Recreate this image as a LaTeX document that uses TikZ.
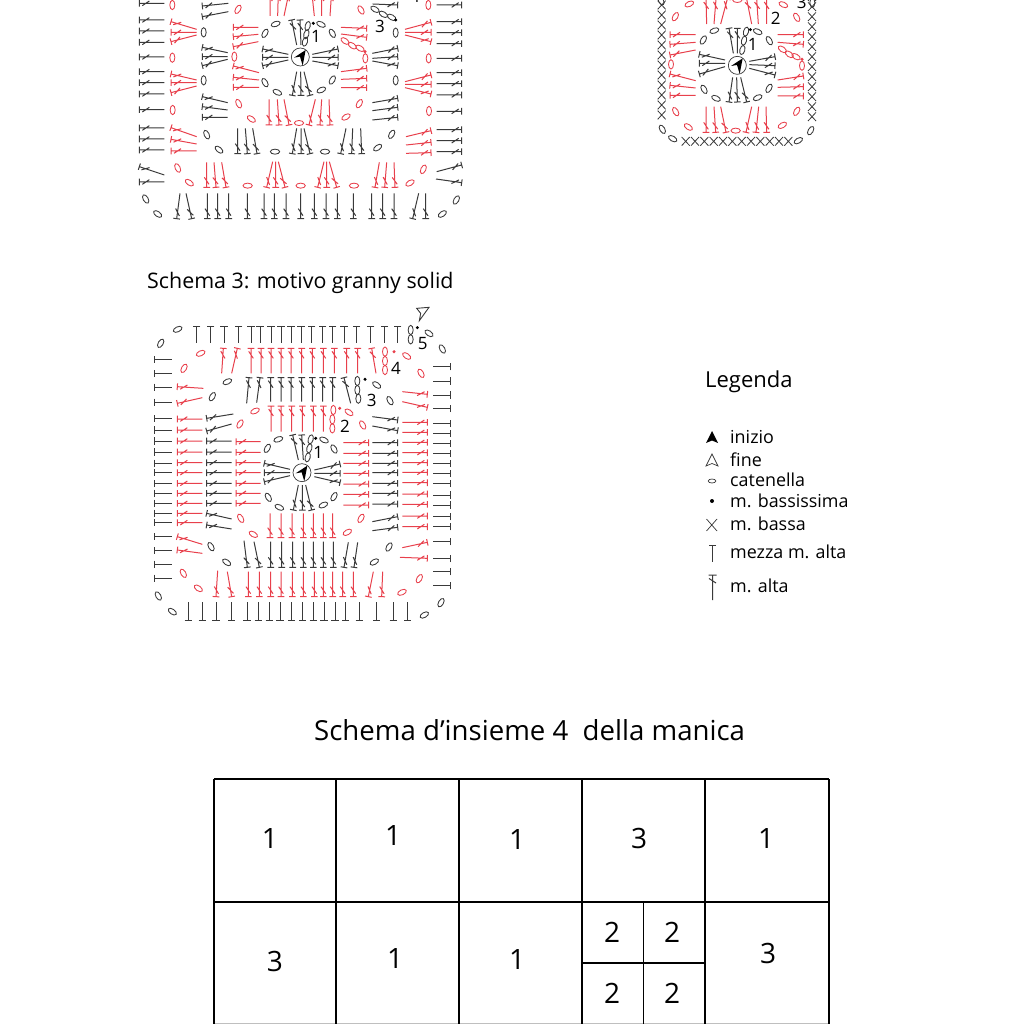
\documentclass[tikz,border=0pt]{standalone}
\usepackage{fontspec}
\setmainfont{Open Sans}
\usetikzlibrary{calc}
\definecolor{cr}{HTML}{E8404C}
\definecolor{ck}{HTML}{3A3A3A}
\tikzset{
  stitch/.style={line width=1pt,line cap=butt},
  ovalst/.style={line width=0.85pt},
  lab/.style={inner sep=0pt,font=\fontsize{17}{17}\selectfont,text=black},
  legtext/.style={anchor=west,inner sep=0pt,font=\fontsize{17.9}{17.9}\selectfont,text=black},
  tabnum/.style={inner sep=0pt,font=\fontsize{28}{28}\selectfont,text=black},
  gridline/.style={line width=1.3pt,draw=black},
  chart/.style={x=1pt,y=-1pt,scale=1/3}
}
\def\bw{10pt}\def\hw{11pt}\def\sa{30pt}\def\sb{9pt}\def\so{7pt}
% double crochet: colour, bar x,y, stem end x,y
\newcommand\ma[5]{\draw[stitch,#1] ($(#2,#3)!\bw!90:(#4,#5)$) -- ($(#2,#3)!\bw!-90:(#4,#5)$) (#2,#3)--(#4,#5) ($(#2,#3)!\sa!(#4,#5)!\so!90:(#4,#5)$) -- ($(#2,#3)!\sb!(#4,#5)!\so!-90:(#4,#5)$);}
% half double crochet
\newcommand\hd[5]{\draw[stitch,#1] ($(#2,#3)!\hw!90:(#4,#5)$) -- ($(#2,#3)!\hw!-90:(#4,#5)$) (#2,#3)--(#4,#5);}
\newcommand\mal[2]{\foreach \a/\b/\c/\d in {#2} {\ma{#1}{\a}{\b}{\c}{\d}}}
\newcommand\ovs[2]{\foreach \a/\b/\c in {#2} {\draw[ovalst,#1,shift={(\a,\b)},rotate=\c] (0,0) ellipse [x radius=14,y radius=7.5];}}
\newcommand\xst[2]{\draw[line width=0.8pt,#1] ($(#2)+(-12,-13)$) -- ($(#2)+(12,13)$) ($(#2)+(-12,13)$) -- ($(#2)+(12,-13)$);}
\newcommand\startarrow[2]{\fill[black,shift={(#1,#2)}] (16,-21) -- (-19,2) -- (-1,-1) -- (7,26) -- cycle;}
\newcommand\ringdraw[2]{\draw[line width=0.7pt,ck] (#1,#2) circle [radius=27];\startarrow{#1}{#2}}
\begin{document}
\begin{tikzpicture}[x=1pt,y=-1pt]
\useasboundingbox (0,0) rectangle (1024,1024);
\clip (0,0) rectangle (1024,1024);
\fill[white] (0,0) rectangle (1024,1024);

% ===== chart 1 =====
\begin{scope}[shift={(130,0)},chart]
\ringdraw{511}{171}
% outer black
\foreach \y in {10,60,93,127,171,215,248,282,329,384,417,450,546} {\ma{ck}{28}{\y}{103}{\y}}
\ma{ck}{28}{500}{103}{525}
\foreach \y in {15,65,98,131,175,218,251,285,334,389,422,455} {\ma{ck}{995}{\y}{920}{\y}}
\mal{ck}{995/495/920/515,995/548/918/537}
\foreach \x in {232,263,296,352,402,433,468,512,553,588,622,670,725,758,792} {\ma{ck}{\x}{656}{\x}{580}}
\mal{ck}{140/656/150/580,185/656/168/580,848/656/866/580,887/656/887/580}
\ovs{ck}{47/597/-60,83/642/-35,937/642/35,979/600/60}
% red outer
\mal{cr}{123/65/200/88,123/97/200/97,123/125/200/105,123/222/200/240,123/248/200/248,123/278/200/258,123/383/200/410,123/418/200/432,123/453/200/453}
\mal{cr}{903/67/825/88,903/97/825/97,903/125/825/105,903/225/825/245,903/253/825/253,903/282/825/263,903/392/828/410,903/427/828/435,903/458/828/460}
\ovs{cr}{127/15/90,127/173/90,128/330/90,143/504/-65,178/548/-35,895/15/90,896/175/90,897/333/90,880/508/65,840/549/30,324/28/60,693/30/-60}
\mal{cr}{230/562/230/487,258/562/252/487,288/562/275/487,410/562/428/485,437/562/437/485,465/562/445/485,563/562/582/485,590/562/590/485,620/562/598/485,735/562/748/487,764/562/770/487,795/562/792/487}
\ovs{cr}{353/557/0,512/557/0,672/557/0}
% black middle
\mal{ck}{217/18/295/10,217/50/295/35,217/142/293/158,217/170/293/170,217/197/293/178,217/290/293/308,217/320/293/330,217/352/293/352}
\mal{ck}{803/15/728/12,803/145/727/160,803/170/727/175,803/197/727/183,803/295/727/308,803/322/727/332,803/352/727/360}
\ovs{ck}{221/97/90,221/241/90,230/404/-65,267/449/-40,797/98/90,797/241/90,785/403/60,743/443/35,735/28/-30,760/43/-30,785/52/-30}
\fill[black] (797,60) circle [radius=5];
\mal{ck}{323/461/323/385,352/461/346/385,381/461/368/385,487/461/500/385,513/461/513/385,540/461/522/385,632/461/648/385,665/461/668/385,695/461/692/385}
\ovs{ck}{435/455/0,585/455/0}
% red inner
\mal{cr}{417/375/417/298,447/375/442/298,477/375/462/298,537/375/556/298,570/375/575/298,600/375/597/298}
\ovs{cr}{507/369/0,364/357/-35,326/311/-65,648/351/30,688/311/60}
\mal{cr}{310/82/385/82,310/110/385/103,310/140/385/125,310/198/387/218,310/232/387/240,310/262/387/262}
\mal{cr}{710/85/633/82,710/112/633/102,710/263/633/263,710/205/633/215,710/235/633/238}
\ovs{cr}{313/170/90,645/123/-35,667/137/-35,690/145/-30,706/175/90}
\fill[cr] (705,155) circle [radius=5];
\mal{cr}{420/-27/420/48,445/-27/443/48,478/-27/462/48,545/-27/553/48,575/-27/575/48,605/-27/600/48}
% centre
\mal{ck}{485/60/500/135,510/60/513/135,398/147/475/163,398/172/475/172,398/197/475/180,624/147/547/163,624/172/547/172,624/197/547/183,487/286/500/215,513/286/512/215,540/286/522/215}
\ovs{ck}{437/72/20,405/100/60,405/248/-60,442/277/-25,574/270/25,607/240/60,607/100/-60,573/73/-25,533/78/75,529/103/75,525/125/75}
\fill[black] (550,70) circle [radius=5];
\node[lab] (c1a) at (558,110) {1};
\node[lab] (c1b) at (750,78) {3};
\node[lab] (c1c) at (855,-12) {4};
\end{scope}

% ===== chart 2 =====
\begin{scope}[shift={(650,0)},chart]
\ringdraw{262}{196}
\foreach \y in {-15,15,45,75,105,135,165,195,225,255,285,315,345} {\xst{ck}{35,\y}}
\foreach \y in {-10,20,50,80,110,140,170,200,230,260,290,320,350} {\xst{ck}{486,\y}}
\foreach \x in {107,135,163,191,219,247,275,303,331,359,387,415} {\xst{ck}{\x,424}}
\ovs{ck}{33/2/-60,37/388/-60,68/416/-30,445/422/30,482/392/60,487/8/90}
\ovs{cr}{76/50/60,118/12/25,400/14/-25,440/52/-60,262/0/0,77/335/-60,115/381/-35,397/376/30,440/334/60,257/392/0,63/193/90,456/197/90,397/148/-35,418/163/-35,438/170/-30}
\mal{cr}{60/104/137/104,60/133/137/127,60/165/137/150,60/222/137/242,60/256/137/264,60/286/137/286}
\mal{cr}{460/104/383/104,460/133/383/127,460/228/383/240,460/260/383/262,460/288/383/288}
\fill[cr] (456,178) circle [radius=5];
\mal{cr}{168/397/168/320,197/397/192/320,228/397/212/320,288/397/305/320,318/397/326/320,350/397/348/320}
\mal{cr}{168/-3/170/72,198/-3/192/72,232/-3/212/72,290/-3/305/72,320/-3/325/72,350/-3/350/72}
\ovs{ck}{193/92/20,160/120/60,162/268/-60,198/295/-25,323/293/25,357/265/60,358/122/-60,323/95/-25,288/95/75,282/122/75,277/150/75}
\mal{ck}{148/163/225/180,148/190/225/190,148/222/225/200,375/170/298/184,375/197/298/194,375/225/298/205,237/306/248/232,262/306/260/232,290/306/272/232,237/85/250/160,262/85/262/160}
\fill[black] (301,89) circle [radius=5];
\node[lab] (c2a) at (308,132) {1};
\node[lab] (c2b) at (377,55) {2};
\node[lab] (c2c) at (455,8) {3};
\end{scope}

% ===== chart 3 =====
\begin{scope}[shift={(140,300)},chart]
\ringdraw{486}{518}
\foreach \x in {170,212,252,296,333,360,393,423,453,483,515,548,578,612,650,692,733,773} {\hd{ck}{\x}{78}{\x}{130}}
\foreach \y in {179,221,262,307,356,390,423,456,490,518,551,580,610,640,668,710,752,793,835} {\hd{ck}{42}{\y}{95}{\y}}
\foreach \y in {200,243,285,325,370,400,430,460,490,520,550,585,615,650,680,725,775,815,857} {\hd{ck}{932}{\y}{878}{\y}}
\foreach \x in {145,187,228,275,321,355,388,420,455,488,520,552,585,617,658,710,760,803} {\hd{ck}{\x}{962}{\x}{905}}
\ovs{ck}{113/88/25,62/130/60,55/888/-60,97/935/-35,853/945/30,903/908/60,907/147/-60,867/100/-35,812/90/90,812/118/90}
\fill[black] (832,83) circle [radius=5];
% red outer
\mal{cr}{250/145/245/220,292/145/275/220,695/145/708/220}
\foreach \x in {333,363,393,423,453,485,517,550,583,620,653} {\ma{cr}{\x}{145}{\x}{220}}
\ovs{cr}{182/160/25,132/205/60,800/168/-35,843/220/-60,735/155/90,735/183/90,735/210/90,130/820/-60,175/865/-35,838/836/60,786/877/25}
\fill[cr] (762,155) circle [radius=5];
\mal{cr}{112/260/190/265,112/310/187/293,112/710/187/733,112/750/187/760}
\foreach \y in {357,390,423,456,488,518,550,580,610,640,668} {\ma{cr}{112}{\y}{187}{\y}}
\mal{cr}{862/283/787/275,862/322/787/305,862/727/787/743,862/775/780/772}
\foreach \y in {367,397,427,458,488,517,548,582,613,648,680} {\ma{cr}{862}{\y}{787}{\y}}
\mal{cr}{228/890/233/812,275/890/262/815,685/890/700/815,725/890/728/815}
\foreach \x in {325,358,392,423,457,490,523,550,578,608,640} {\ma{cr}{\x}{890}{\x}{815}}
% black middle
\mal{ck}{327/233/320/310,360/233/350/308,612/233/632/310}
\foreach \x in {392,423,453,485,517,548,578} {\ma{ck}{\x}{233}{\x}{305}}
\ovs{ck}{652/243/90,652/270/90,655/296/90,262/245/25,217/290/60,710/255/-35,750/302/-60,213/740/-60,260/787/-35,747/741/60,703/786/30}
\fill[black] (675,238) circle [radius=5];
\mal{ck}{200/355/280/342,200/393/275/372,200/640/275/657,200/675/275/687}
\foreach \y in {423,456,488,518,550,580,610} {\ma{ck}{200}{\y}{275}{\y}}
\mal{ck}{773/360/697/350,773/392/697/378,773/650/697/665,773/682/697/692}
\foreach \y in {428,460,490,518,550,580,612} {\ma{ck}{773}{\y}{697}{\y}}
\mal{ck}{322/802/312/722,358/802/342/725,612/802/625/727,642/802/653/727}
\foreach \x in {392,425,458,490,520,550,580} {\ma{ck}{\x}{802}{\x}{725}}
% red inner
\foreach \x in {393,423,455,487,520,550} {\ma{cr}{\x}{318}{\x}{395}}
\ovs{cr}{580/330/90,577/358/90,577/385/90,345/333/25,300/372/60,627/337/-35,668/375/-60,302/655/-60,340/703/-30,663/655/60,622/697/30}
\fill[cr] (599,325) circle [radius=5];
\foreach \y in {425,457,488,518,550,580,610} {\ma{cr}{288}{\y}{362}{\y}}
\foreach \y in {428,460,490,520,552,583,615} {\ma{cr}{686}{\y}{610}{\y}}
\foreach \x in {390,423,456,490,520,550,578} {\ma{cr}{\x}{713}{\x}{640}}
% centre
\mal{ck}{458/405/475/480,485/405/490/480,373/490/450/508,373/518/450/518,373/545/450/527,600/492/523/510,600/520/523/520,600/548/523/530,460/630/475/555,487/630/487/555,515/630/497/555}
\ovs{ck}{415/418/20,382/445/60,385/592/-60,418/622/-25,550/615/25,582/590/60,582/447/-60,552/420/-25,512/418/75,508/445/75,503/472/75}
\fill[black] (527,415) circle [radius=5];
\node[lab] (c3a) at (535,457) {1};
\node[lab] (c3b) at (615,378) {2};
\node[lab] (c3c) at (695,300) {3};
\node[lab] (c3d) at (768,205) {4};
\node[lab] (c3e) at (848,130) {5};
\draw[line width=0.9pt,ck,line join=miter] (830,25) -- (867,22) -- (838,62) -- (842,40) -- cycle;
\end{scope}

% ===== titles =====
\node[anchor=base west,inner sep=0pt,font=\fontsize{21.4}{21.4}\selectfont] (t3) at (147,288) {Schema 3: motivo granny solid};
\node[anchor=base west,inner sep=0pt,font=\fontsize{27.6}{27.6}\selectfont] (t4) at (314,740) {Schema d’insieme 4~ della manica};

% ===== legend =====
\node[anchor=base west,inner sep=0pt,font=\fontsize{22}{22}\selectfont] (lg) at (705,387) {Legenda};
\node[legtext] (l1) at (730,437) {inizio};
\node[legtext] (l2) at (730,460) {fine};
\node[legtext] (l3) at (730,480) {catenella};
\node[legtext] (l4) at (730,501) {m. bassissima};
\node[legtext] (l5) at (730,524) {m. bassa};
\node[legtext] (l6) at (730,552) {mezza m. alta};
\node[legtext] (l7) at (730,586) {m. alta};
\fill[black] (712,431) -- (718,443) -- (712,440.5) -- (706,443) -- cycle;
\draw[line width=0.7pt,ck] (712,454) -- (718,466) -- (712,463.5) -- (706,466) -- cycle;
\draw[line width=0.7pt,ck] (712,481) ellipse [x radius=3.8,y radius=2];
\fill[black] (712,501) circle [radius=2];
\draw[line width=0.7pt,ck] (706.5,519) -- (717,531) (706.5,531) -- (717,519);
\begingroup
\def\bw{4pt}\def\hw{3.5pt}\def\sa{8pt}\def\sb{3.5pt}\def\so{3.5pt}
\hd{ck}{712.5}{545}{712.5}{562}
\ma{ck}{712.5}{575}{712.5}{600}
\endgroup

% ===== table =====
\draw[line width=0.8pt,black!25] (214,1023.6) -- (829,1023.6);
\foreach \x in {214,336,459,582,705,829} {\draw[gridline] (\x,779) -- (\x,1024);}
\draw[gridline] (214,779) -- (829,779);
\draw[gridline] (214,902) -- (829,902);
\draw[gridline] (582,963) -- (705,963);
\draw[gridline] (643.5,902) -- (643.5,1024);
\node[tabnum] (n1) at (270,838) {1};
\node[tabnum] (n2) at (393,835) {1};
\node[tabnum] (n3) at (517,839) {1};
\node[tabnum] (n4) at (639,838) {3};
\node[tabnum] (n5) at (766,838) {1};
\node[tabnum] (n6) at (275,961) {3};
\node[tabnum] (n7) at (395,958) {1};
\node[tabnum] (n8) at (517,959) {1};
\node[tabnum] (n9) at (612,932) {2};
\node[tabnum] (n10) at (672,932) {2};
\node[tabnum] (n11) at (612,993) {2};
\node[tabnum] (n12) at (672,993) {2};
\node[tabnum] (n13) at (768,953) {3};
\end{tikzpicture}
\end{document}
